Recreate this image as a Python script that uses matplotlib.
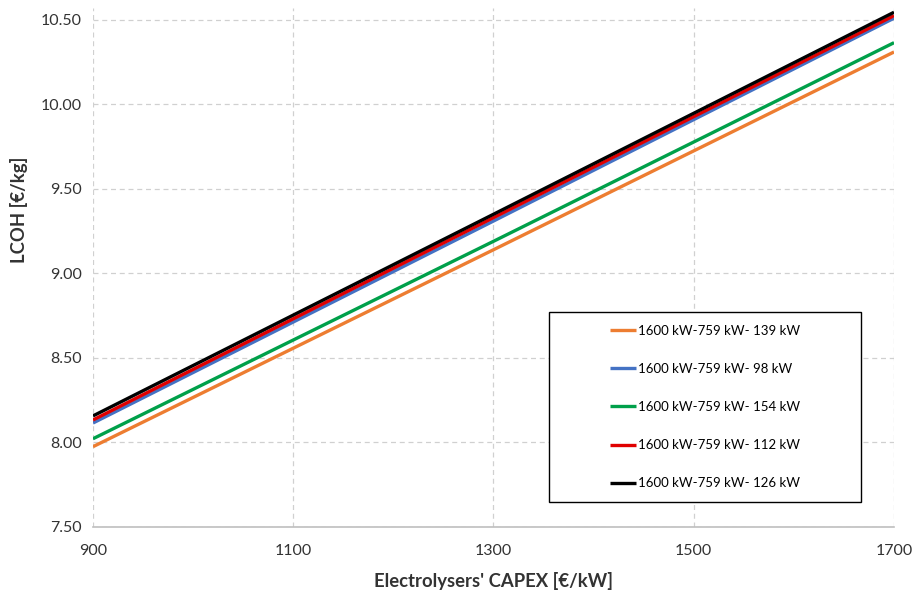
import matplotlib
matplotlib.use("Agg")
import matplotlib.pyplot as plt
from matplotlib.patches import Rectangle

# Data
capex = [900, 1300, 1700]  # €/kW
series_labels = [
    "1600 kW-759 kW- 139 kW",
    "1600 kW-759 kW- 98 kW",
    "1600 kW-759 kW- 154 kW",
    "1600 kW-759 kW- 112 kW",
    "1600 kW-759 kW- 126 kW",
]
lcoh_139 = [7.975, 9.14, 10.31]
lcoh_98 = [8.115, 9.31, 10.51]
lcoh_154 = [8.022, 9.19, 10.365]
lcoh_112 = [8.133, 9.33, 10.525]
lcoh_126 = [8.157, 9.35, 10.545]
series_colors = ["#ED7D31", "#4472C4", "#00A04A", "#E00000", "#000000"]

x_ticks = [900, 1100, 1300, 1500, 1700]
y_ticks = [7.50, 8.00, 8.50, 9.00, 9.50, 10.00, 10.50]

plt.rcParams['font.family'] = ['Lato', 'DejaVu Sans']

fig = plt.figure(figsize=(9.16, 5.90), dpi=100)
ax = fig.add_axes([0.1015, 0.1068, 0.8745, 0.8796])

for vals, lab, col in zip([lcoh_139, lcoh_98, lcoh_154, lcoh_112, lcoh_126],
                          series_labels, series_colors):
    ax.plot(capex, vals, color=col, linewidth=2.4, label=lab, solid_capstyle='butt')

ax.set_xlim(900, 1700)
ax.set_ylim(7.5, 10.57)
ax.set_xticks(x_ticks)
ax.set_yticks(y_ticks)
ax.set_yticklabels(["%.2f" % v for v in y_ticks])
ax.tick_params(axis='both', length=0, labelsize=11.5, colors='#333333', pad=8)
ax.tick_params(axis='x', pad=12)

# Dashed grid, only bottom spine kept
ax.grid(True, linestyle=(0, (4, 3)), color='#d0d0d0', linewidth=0.9)
ax.set_axisbelow(True)
for side in ['top', 'right', 'left']:
    ax.spines[side].set_visible(False)
ax.spines['bottom'].set_color('#bfbfbf')
ax.spines['bottom'].set_linewidth(1.2)

ax.set_xlabel("Electrolysers' CAPEX [€/kW]", fontsize=13.3, fontweight='bold',
              color='#333333', labelpad=10)
ax.set_ylabel("LCOH [€/kg]", fontsize=13.3, fontweight='bold', color='#333333')
ax.yaxis.set_label_coords(-0.081, 0.611)

# Legend box (frame drawn separately so the entries sit centred in it)
box = Rectangle((549 / 916, 1 - 502 / 590), 312 / 916, 190 / 590,
                transform=fig.transFigure, facecolor='white', edgecolor='black',
                linewidth=1.0, zorder=5)
fig.patches.append(box)
leg = fig.legend(loc='center', bbox_to_anchor=(705 / 916, 1 - 407 / 590),
                 fontsize=9.5, handlelength=2.0, handletextpad=0.1,
                 labelspacing=1.98, borderpad=0, frameon=False)
leg.set_zorder(6)
for h in leg.get_lines():
    h.set_linewidth(2.4)

fig.savefig("out.png", dpi=100)
